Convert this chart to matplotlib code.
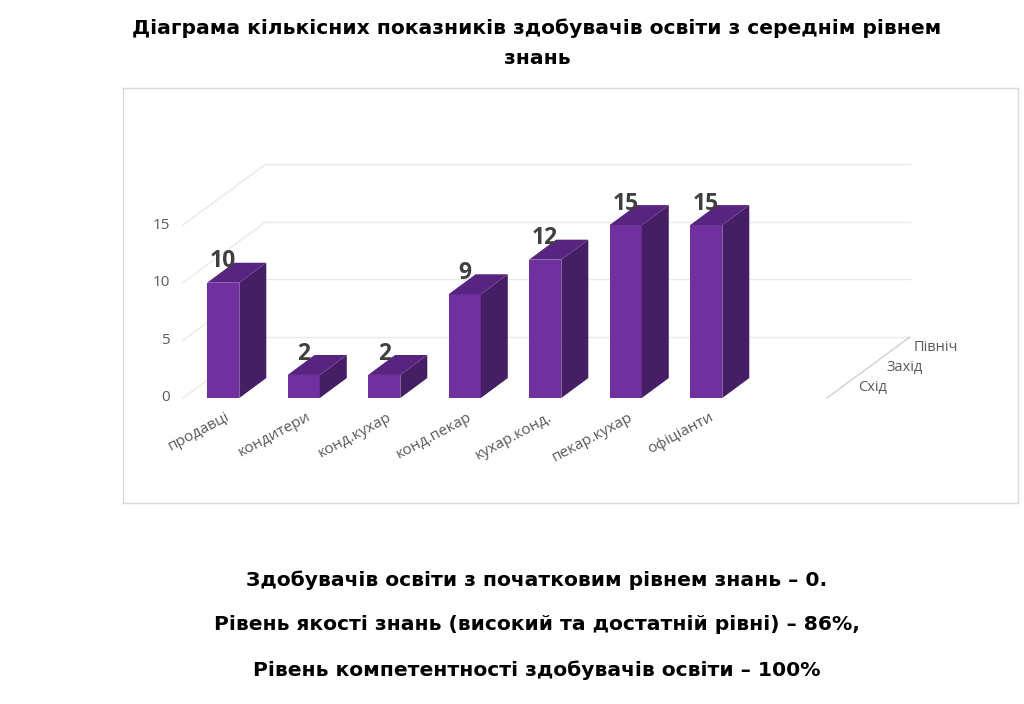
import matplotlib.pyplot as plt
from matplotlib.patches import Polygon

categories = ['продавці', 'кондитери', 'конд.кухар', 'конд.пекар',
              'кухар.конд.', 'пекар.кухар', 'офіціанти']
values = [10, 2, 2, 9, 12, 15, 15]
y_ticks = [0, 5, 10, 15]
series_names = ['Схід', 'Захід', 'Північ']

title_lines = ['Діаграма кількісних показників здобувачів освіти з середнім рівнем',
               'знань']
notes = ['Здобувачів освіти з початковим рівнем знань – 0.',
         'Рівень якості знань (високий та достатній рівні) – 86%,',
         'Рівень компетентності здобувачів освіти – 100%']

# colours of the 3d column faces
front_c = '#7030a0'
side_c = '#461e66'
top_c = '#57247f'
grid_c = '#e9e9e9'

# fake 3d depth, in data units
bar_w = 0.4
bar_dx, bar_dy = 0.335, 1.73
wall_dx, wall_dy = 1.03, 5.29
floor_end = len(categories) + 0.5

fig = plt.figure(figsize=(10.24, 7.04), dpi=100)
ax = fig.add_axes([123 / 1024, 201 / 704, 895 / 1024, 415 / 704])
ax.set_xlim(-1.245, 9.873)
ax.set_ylim(-9.107, 26.886)
ax.set_xticks([])
ax.set_yticks([])
for s in ax.spines.values():
    s.set_color('#d9d9d9')
    s.set_linewidth(1)

# back wall + left wall grid
for v in y_ticks:
    ax.plot([-0.5, -0.5 + wall_dx], [v, v + wall_dy], color=grid_c, lw=1, zorder=1)
    ax.plot([-0.5 + wall_dx, floor_end + wall_dx], [v + wall_dy, v + wall_dy],
            color=grid_c, lw=1, zorder=1)
    ax.text(-0.66, v, str(v), ha='right', va='center', fontsize=11,
            color='#595959', family='Open Sans')
# right edge of the floor
ax.plot([floor_end, floor_end + wall_dx], [0, wall_dy], color='#d0d0d0', lw=1, zorder=1)

for i, name in enumerate(series_names):
    f = (i + 0.5) / len(series_names)
    ax.text(floor_end + wall_dx * f + 0.22, wall_dy * f, name, ha='left', va='center',
            fontsize=10.5, color='#595959', family='Open Sans')

xs = list(range(len(categories)))
bars = ax.bar(xs, values, width=bar_w, color=front_c, zorder=3, linewidth=0)
for b, v in zip(bars, values):
    x0, x1 = b.get_x(), b.get_x() + b.get_width()
    side = Polygon([(x1, 0), (x1 + bar_dx, bar_dy), (x1 + bar_dx, v + bar_dy), (x1, v)],
                   closed=True, facecolor=side_c, edgecolor='none', zorder=3)
    top = Polygon([(x0, v), (x0 + bar_dx, v + bar_dy), (x1 + bar_dx, v + bar_dy), (x1, v)],
                  closed=True, facecolor=top_c, edgecolor='none', zorder=3)
    ax.add_patch(side)
    ax.add_patch(top)
    ax.text(b.get_x() + b.get_width() / 2, v + 1.85, str(v), ha='center', va='center',
            fontsize=16.5, fontweight='bold', color='#404040', family='Open Sans', zorder=5)

for x, name in zip(xs, categories):
    ax.text(x + 0.03, -1.0, name, rotation=28, rotation_mode='anchor', ha='right', va='top',
            fontsize=11, color='#595959', family='Open Sans')

cx = 537 / 1024
for k, line in enumerate(title_lines):
    fig.text(cx, 1 - (28 + k * 31) / 704, line, ha='center', va='center', fontsize=14.6,
             fontweight='bold', family='DejaVu Sans')

for k, line in enumerate(notes):
    fig.text(cx, 1 - (580 + k * 45) / 704, line, ha='center', va='center', fontsize=14.6,
             fontweight='bold', family='DejaVu Sans')

fig.savefig('out.png', dpi=100)
